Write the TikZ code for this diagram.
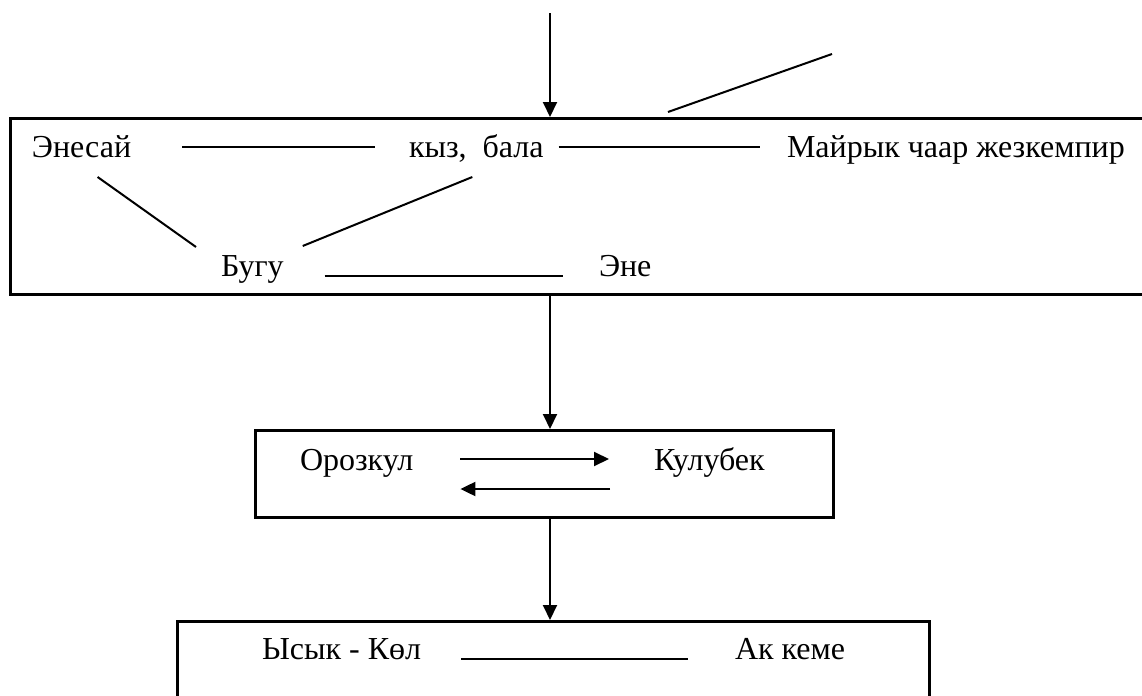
\documentclass[tikz,border=0pt]{standalone}
\usepackage{fontspec}
\setmainfont{Liberation Serif}
\usetikzlibrary{arrows.meta}
\begin{document}
\begin{tikzpicture}[
        x=0.5pt, y=-0.5pt,
        line width=1pt,
        arr/.style={-{Triangle[length=7.5pt,width=7pt]}},
        box/.style={draw, rectangle, line width=1.3pt, anchor=north west}]

        \tikzstyle{every node}=[font=\fontsize{16}{19}\selectfont, inner sep=0pt, anchor=base west]

        \clip (0,0) rectangle (1142,696);

        \node[box, minimum width=575pt, minimum height=88pt] (b1) at (9,117) {};
        \node[box, minimum width=289pt, minimum height=43.5pt] (b2) at (254,429) {};
        \node[box, minimum width=376pt, minimum height=60pt] (b3) at (176,620) {};

        \node (enesay) at (31,157) {Энесай};
        \node (kyz) at (408,157) {кыз,\ \ бала};
        \node (mayryk) at (786,157) {Майрык чаар жезкемпир};
        \node (bugu) at (220,276) {Бугу};
        \node (ene) at (598,276) {Эне};
        \node (orozkul) at (299,470) {Орозкул};
        \node (kulubek) at (653,470) {Кулубек};
        \node (ysyk) at (261,659) {Ысык - Көл};
        \node (akkeme) at (734,659) {Ак кеме};

        \draw[shorten <=25pt, shorten >=16.5pt] ([shift={(0,-10)}]enesay.base east) -- ([shift={(0,-10)}]kyz.base west);
        \draw[shorten <=7pt, shorten >=13pt] ([shift={(0,-10)}]kyz.base east) -- ([shift={(0,-10)}]mayryk.base west);
        \draw[shorten <=20pt, shorten >=17.5pt] (bugu.base east) -- (ene.base west);
        \draw ([shift={(16,20)}]enesay.base) -- ([shift={(-24,-29)}]bugu.base west);
        \draw ([shift={(-4,20)}]kyz.base) -- ([shift={(18,-30)}]bugu.base east);

        \draw[arr, shorten <=23pt, shorten >=22pt] ([shift={(0,-11)}]orozkul.base east) -- ([shift={(0,-11)}]kulubek.base west);
        \draw[arr, shorten <=21.5pt, shorten >=23pt] ([shift={(0,19)}]kulubek.base west) -- ([shift={(0,19)}]orozkul.base east);
        \draw[shorten <=19.5pt, shorten >=23pt] (ysyk.base east) -- (akkeme.base west);

        \coordinate (top) at (550,13);
        \draw[arr] (top) -- (top |- b1.north);
        \draw[arr] (top |- b1.south) -- (top |- b2.north);
        \draw[arr] (top |- b2.south) -- (top |- b3.north);

        \coordinate (s1) at (668,112);
        \coordinate (s2) at (832,54);
        \draw (s1) -- (s2);
    \end{tikzpicture}
\end{document}
